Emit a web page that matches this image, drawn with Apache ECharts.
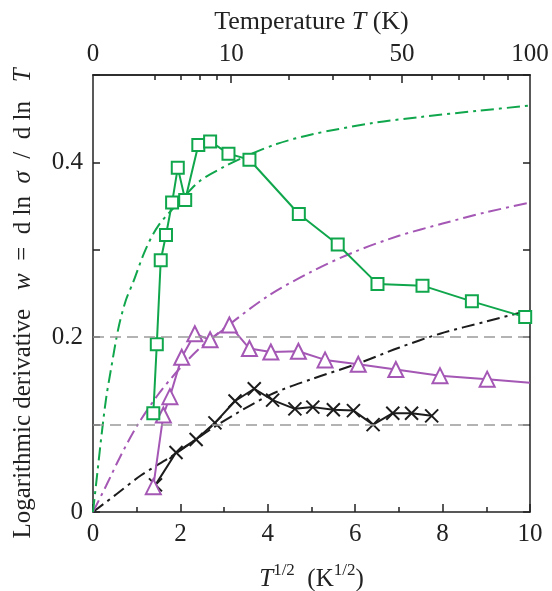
<!DOCTYPE html>
<html><head><meta charset="utf-8">
<script src="https://cdn.jsdelivr.net/npm/echarts@6/dist/echarts.min.js"></script>
<style>html,body{margin:0;padding:0;background:#fff}#c{width:552px;height:591px}</style>
</head><body><div id="c"></div>
<script>
// Experimental points (x = T^1/2, y = w)
const greenX = [1.38,1.46,1.55,1.67,1.81,1.94,2.11,2.41,2.68,3.10,3.58,4.71,5.60,6.51,7.54,8.67,9.89];
const greenY = [0.113,0.192,0.288,0.317,0.354,0.394,0.357,0.420,0.424,0.410,0.403,0.341,0.306,0.261,0.259,0.241,0.223];
const purpleX = [1.38,1.61,1.76,2.03,2.33,2.68,3.12,3.58,4.07,4.70,5.31,6.07,6.93,7.94,9.02];
const purpleY = [0.029,0.111,0.132,0.177,0.204,0.197,0.214,0.187,0.183,0.184,0.174,0.169,0.163,0.156,0.152];
const purpleTailX = [10];
const purpleTailY = [0.148];
const blackX = [1.43,1.90,2.36,2.79,3.25,3.69,4.11,4.62,5.03,5.50,5.96,6.41,6.86,7.29,7.75];
const blackY = [0.031,0.068,0.083,0.102,0.127,0.141,0.128,0.118,0.120,0.117,0.116,0.100,0.113,0.113,0.110];
// Theory curves (dash-dot)
const greenFitX = [0,0.1,0.2,0.3,0.4,0.58,0.75,0.92,1.2,1.5,2.0,2.45,3.0,3.5,4.2,5.0,6.4,7.5,8.8,10];
const greenFitY = [0,0.045,0.09,0.13,0.16,0.21,0.242,0.263,0.30,0.328,0.356,0.379,0.395,0.407,0.421,0.432,0.445,0.452,0.459,0.465];
const purpleFitX = [0,0.3,0.62,1.0,1.5,2.0,2.5,3.0,4.0,5.0,6.0,7.0,8.0,9.0,10];
const purpleFitY = [0,0.03,0.063,0.098,0.135,0.165,0.19,0.21,0.247,0.275,0.298,0.316,0.330,0.343,0.354];
const blackFitX = [0,0.5,1.1,1.84,2.83,4.05,5.0,6.07,7.0,7.94,9.0,10];
const blackFitY = [0,0.019,0.042,0.065,0.099,0.134,0.152,0.170,0.188,0.204,0.218,0.231];
// Reference dashed levels
const refLevels = [0.1, 0.2];
// Axis ticks
const yLabelValues = [0, 0.2, 0.4];
const topLabelT = [0, 10, 50, 100];
const topMajorT = [10, 50];
const topMinorT = [2,4,6,8,20,30,40,60,70,80,90];

const zip = (xs, ys) => xs.map((x, i) => [x, ys[i]]);
const GREEN = '#10a64c', PURPLE = '#a457b4', BLACK = '#1c1c1c';
const FONT = 'Liberation Serif';
const dashDot = [13, 5, 3, 5];
const FS = 25;
const lbl = {fontFamily: FONT, fontSize: FS, color: '#222'};
const tickStyle = {color: '#222', width: 1.5};
const line = {show: true, onZero: false, lineStyle: tickStyle};

const chart = echarts.init(document.getElementById('c'));
chart.setOption({
  animation: false,
  backgroundColor: '#fff',
  grid: {left: 93, right: 22, top: 75, bottom: 79, outerBoundsMode: 'none', containLabel: false},
  xAxis: [
    {
      type: 'value', min: 0, max: 10, interval: 2, position: 'bottom',
      axisLine: line,
      axisTick: {show: true, inside: true, length: 8, lineStyle: tickStyle},
      minorTick: {show: true, splitNumber: 2, length: 5, lineStyle: tickStyle},
      splitLine: {show: false},
      axisLabel: Object.assign({margin: 10}, lbl),
      name: '{i|T}{sup|1/2}{n|  (K}{sup|1/2}{n|)}',
      nameLocation: 'middle', nameGap: 50,
      nameTextStyle: {
        fontFamily: FONT, fontSize: FS, color: '#222',
        rich: {
          i: {fontFamily: FONT, fontSize: FS, fontStyle: 'italic', color: '#222', lineHeight: 30, verticalAlign: 'bottom'},
          n: {fontFamily: FONT, fontSize: FS, color: '#222', lineHeight: 30, verticalAlign: 'bottom'},
          sup: {fontFamily: FONT, fontSize: 17, color: '#222', lineHeight: 30, verticalAlign: 'top'}
        }
      }
    },
    {
      type: 'value', min: 0, max: 10, position: 'top',
      axisLine: line,
      axisTick: {show: true, inside: true, length: 8, customValues: topMajorT.map(Math.sqrt), lineStyle: tickStyle},
      splitLine: {show: false},
      axisLabel: Object.assign({margin: 8, showMinLabel: true, showMaxLabel: true,
        customValues: topLabelT.map(Math.sqrt),
        formatter: v => String(Math.round(v * v))}, lbl),
      name: '{n|Temperature }{i|T}{n| (K)}',
      nameLocation: 'middle', nameGap: 40,
      nameTextStyle: {
        fontFamily: FONT, fontSize: FS, color: '#222',
        rich: {
          i: {fontFamily: FONT, fontSize: 26, fontStyle: 'italic', color: '#222'},
          n: {fontFamily: FONT, fontSize: 26, color: '#222'}
        }
      }
    },
    {
      type: 'value', min: 0, max: 10, position: 'top',
      axisLine: line,
      axisTick: {show: true, inside: true, length: 5, customValues: topMinorT.map(Math.sqrt), lineStyle: tickStyle},
      splitLine: {show: false},
      axisLabel: {show: false}
    }
  ],
  yAxis: [
    {
      type: 'value', min: 0, max: 0.5, interval: 0.1, position: 'left',
      axisLine: line,
      axisTick: {show: true, inside: true, length: 7, lineStyle: tickStyle},
      splitLine: {show: false},
      axisLabel: Object.assign({margin: 10, formatter: v => {
        const hit = yLabelValues.find(t => Math.abs(t - v) < 1e-6);
        return hit === undefined ? '' : String(hit);
      }}, lbl),
      name: '{n|Logarithmic derivative   }{i|w}{n|  =  d ln  }{i|σ}{n|  /  d ln   }{i|T}{pad|}',
      nameLocation: 'middle', nameGap: 57, nameRotate: 90,
      nameTextStyle: {
        fontFamily: FONT, fontSize: FS, color: '#222',
        rich: {
          i: {fontFamily: FONT, fontSize: FS, fontStyle: 'italic', color: '#222'},
          n: {fontFamily: FONT, fontSize: FS, color: '#222'},
          pad: {fontFamily: FONT, fontSize: FS, width: 20}
        }
      }
    },
    {
      type: 'value', min: 0, max: 0.5, interval: 0.1, position: 'right',
      axisLine: line,
      axisTick: {show: true, inside: true, length: 7, lineStyle: tickStyle},
      splitLine: {show: false},
      axisLabel: {show: false}
    }
  ],
  series: [
    {
      type: 'line', data: [], silent: true, symbol: 'none',
      markLine: {
        silent: true, symbol: 'none', label: {show: false},
        lineStyle: {color: '#9a9a9a', type: [11, 6], width: 1.5},
        data: refLevels.map(v => ({yAxis: v}))
      }
    },
    {type: 'line', data: zip(blackFitX, blackFitY), smooth: 0.3, symbol: 'none', lineStyle: {color: BLACK, width: 2, type: dashDot}},
    {type: 'line', data: zip(purpleFitX, purpleFitY), smooth: 0.3, symbol: 'none', lineStyle: {color: PURPLE, width: 2, type: dashDot}},
    {type: 'line', data: zip(greenFitX, greenFitY), smooth: 0.3, symbol: 'none', lineStyle: {color: GREEN, width: 2, type: dashDot}},
    {
      type: 'line', data: zip(blackX, blackY), symbol: 'path://M0,0L10,10M10,0L0,10', symbolSize: 13,
      lineStyle: {color: BLACK, width: 2}, itemStyle: {color: 'none', borderColor: BLACK, borderWidth: 2}
    },
    {
      type: 'line',
      data: zip(purpleX, purpleY).concat(zip(purpleTailX, purpleTailY).map(p => ({value: p, symbol: 'none'}))),
      symbol: 'emptyTriangle', symbolSize: 15,
      lineStyle: {color: PURPLE, width: 2}, itemStyle: {color: PURPLE, borderWidth: 2}
    },
    {
      type: 'line', data: zip(greenX, greenY), symbol: 'emptyRect', symbolSize: 12,
      lineStyle: {color: GREEN, width: 2}, itemStyle: {color: GREEN, borderWidth: 2}
    }
  ]
});
</script></body></html>
